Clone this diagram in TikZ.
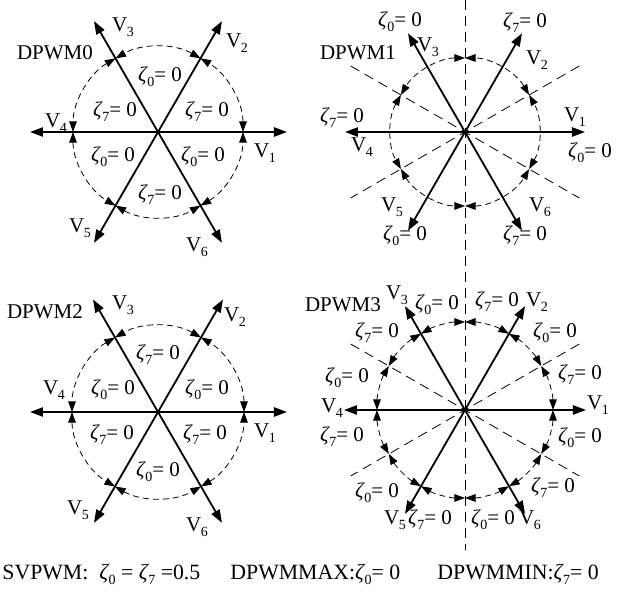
\documentclass[tikz,border=0pt]{standalone}
\usepackage{fontspec}
\setmainfont{Liberation Serif}
\usetikzlibrary{arrows.meta}
\newcommand{\zt}[1]{{\itshape ζ}\kern0.3pt\raisebox{-0.5ex}{\fontsize{7}{7}\selectfont #1}}
\newcommand{\vv}[1]{V\kern-0.3pt\raisebox{-0.55ex}{\fontsize{7}{7}\selectfont #1}}
\tikzset{
 vec/.style={line width=0.9pt, -{Triangle[length=6.5pt,width=4.6pt]}},
 circarc/.style={line width=0.4pt, dash pattern=on 3pt off 2pt, {Triangle[length=5.3pt,width=3.8pt]}-{Triangle[length=5.3pt,width=3.8pt]}},
 guide/.style={line width=0.4pt, dash pattern=on 5pt off 3pt},
 lab/.style={font=\fontsize{10.5}{12}\selectfont, inner sep=0pt},
 blab/.style={font=\fontsize{10.9}{12}\selectfont, inner sep=0pt, anchor=west},
}
\begin{document}
\begin{tikzpicture}[x=0.5pt,y=0.5pt]
\useasboundingbox (0,0) rectangle (629,-593);
% vertical guide
\coordinate (vt) at (465,0);
\coordinate (vb) at (465,-550);
\draw[guide] (vt) -- (vb);

% ---------- DPWM0 ----------
\begin{scope}[shift={(158,-132)}]
\coordinate (A) at (0,0);
\foreach \a/\L [count=\i] in {0/129,60/128,120/128,180/128,240/128,300/128}{
  \coordinate (A\i) at (\a:\L);
  \draw[vec] (A) -- (A\i);
}
\foreach \a in {0,60,...,300}
  \draw[circarc] (\a:85) arc[start angle=\a, delta angle=60, radius=85];
\end{scope}
\node[lab] (A-t) at (55,-53) {DPWM0};
\node[lab] (A-v1) at (265,-153) {\vv{1}};
\node[lab] (A-v2) at (237,-43) {\vv{2}};
\node[lab] (A-v3) at (123,-27) {\vv{3}};
\node[lab] (A-v4) at (56,-123) {\vv{4}};
\node[lab] (A-v5) at (80,-228) {\vv{5}};
\node[lab] (A-v6) at (197,-247) {\vv{6}};
\node[lab] (A-z1) at (160,-77) {\zt{0}= 0};
\node[lab] (A-z2) at (207,-112) {\zt{7}= 0};
\node[lab] (A-z3) at (115,-112) {\zt{7}= 0};
\node[lab] (A-z4) at (113,-157) {\zt{0}= 0};
\node[lab] (A-z5) at (203,-157) {\zt{0}= 0};
\node[lab] (A-z6) at (160,-195) {\zt{7}= 0};

% ---------- DPWM1 ----------
\begin{scope}[shift={(465,-132)}]
\coordinate (B) at (0,0);
\draw[guide] (150:132) -- (-30:132);
\draw[guide] (30:132) -- (210:132);
\foreach \a/\L [count=\i] in {0/120,60/114,120/114,180/120,240/114,300/114}{
  \coordinate (B\i) at (\a:\L);
  \draw[vec] (B) -- (B\i);
}
\foreach \a in {30,90,...,330}
  \draw[circarc] (\a:74) arc[start angle=\a, delta angle=60, radius=74];
\end{scope}
\node[lab] (B-t) at (358,-53) {DPWM1};
\node[lab] (B-v1) at (575,-117) {\vv{1}};
\node[lab] (B-v2) at (537,-60) {\vv{2}};
\node[lab] (B-v3) at (428,-47) {\vv{3}};
\node[lab] (B-v4) at (362,-147) {\vv{4}};
\node[lab] (B-v5) at (392,-207) {\vv{5}};
\node[lab] (B-v6) at (540,-207) {\vv{6}};
\node[lab] (B-z1) at (400,-22) {\zt{0}= 0};
\node[lab] (B-z2) at (525,-23) {\zt{7}= 0};
\node[lab] (B-z3) at (342,-118) {\zt{7}= 0};
\node[lab] (B-z4) at (590,-153) {\zt{0}= 0};
\node[lab] (B-z5) at (405,-236) {\zt{0}= 0};
\node[lab] (B-z6) at (525,-236) {\zt{7}= 0};

% ---------- DPWM2 ----------
\begin{scope}[shift={(158,-412)}]
\coordinate (C) at (0,0);
\foreach \a/\L [count=\i] in {0/129,60/130,120/130,180/128,240/128,300/128}{
  \coordinate (C\i) at (\a:\L);
  \draw[vec] (C) -- (C\i);
}
\foreach \a in {0,60,...,300}
  \draw[circarc] (\a:86) arc[start angle=\a, delta angle=60, radius=86];
\end{scope}
\node[lab] (C-t) at (45,-312) {DPWM2};
\node[lab] (C-v1) at (265,-433) {\vv{1}};
\node[lab] (C-v2) at (235,-317) {\vv{2}};
\node[lab] (C-v3) at (123,-305) {\vv{3}};
\node[lab] (C-v4) at (54,-390) {\vv{4}};
\node[lab] (C-v5) at (78,-510) {\vv{5}};
\node[lab] (C-v6) at (197,-527) {\vv{6}};
\node[lab] (C-z1) at (158,-355) {\zt{7}= 0};
\node[lab] (C-z2) at (113,-390) {\zt{0}= 0};
\node[lab] (C-z3) at (207,-390) {\zt{0}= 0};
\node[lab] (C-z4) at (112,-435) {\zt{7}= 0};
\node[lab] (C-z5) at (205,-435) {\zt{7}= 0};
\node[lab] (C-z6) at (158,-472) {\zt{0}= 0};

% ---------- DPWM3 ----------
\begin{scope}[shift={(465,-410)}]
\coordinate (D) at (0,0);
\draw[guide] (150:132) -- (-30:132);
\draw[guide] (30:132) -- (210:132);
\foreach \a/\L [count=\i] in {0/121,60/120,120/120,180/121,240/120,300/120}{
  \coordinate (D\i) at (\a:\L);
  \draw[vec] (D) -- (D\i);
}
\foreach \a in {0,30,...,330}
  \draw[circarc] (\a:88) arc[start angle=\a, delta angle=30, radius=88];
\end{scope}
\node[lab] (D-t) at (343,-305) {DPWM3};
\node[lab] (D-v1) at (598,-405) {\vv{1}};
\node[lab] (D-v2) at (537,-302) {\vv{2}};
\node[lab] (D-v3) at (397,-295) {\vv{3}};
\node[lab] (D-v4) at (332,-408) {\vv{4}};
\node[lab] (D-v5) at (395,-520) {\vv{5}};
\node[lab] (D-v6) at (530,-520) {\vv{6}};
\node[lab] (D-z1) at (580,-375) {\zt{7}= 0};
\node[lab] (D-z2) at (555,-333) {\zt{0}= 0};
\node[lab] (D-z3) at (497,-302) {\zt{7}= 0};
\node[lab] (D-z4) at (437,-305) {\zt{0}= 0};
\node[lab] (D-z5) at (377,-333) {\zt{7}= 0};
\node[lab] (D-z6) at (347,-378) {\zt{0}= 0};
\node[lab] (D-z7) at (342,-437) {\zt{7}= 0};
\node[lab] (D-z8) at (377,-493) {\zt{0}= 0};
\node[lab] (D-z9) at (430,-520) {\zt{7}= 0};
\node[lab] (D-z10) at (493,-520) {\zt{0}= 0};
\node[lab] (D-z11) at (553,-488) {\zt{7}= 0};
\node[lab] (D-z12) at (580,-438) {\zt{0}= 0};

% ---------- bottom legend ----------
\node[blab] (L1) at (2,-574) {SVPWM:\ \ \zt{0} =\ \zt{7} =0.5};
\node[blab] (L2) at (230,-574) {DPWMMAX:\zt{0}= 0};
\node[blab] (L3) at (437,-574) {DPWMMIN:\zt{7}= 0};
\end{tikzpicture}
\end{document}
